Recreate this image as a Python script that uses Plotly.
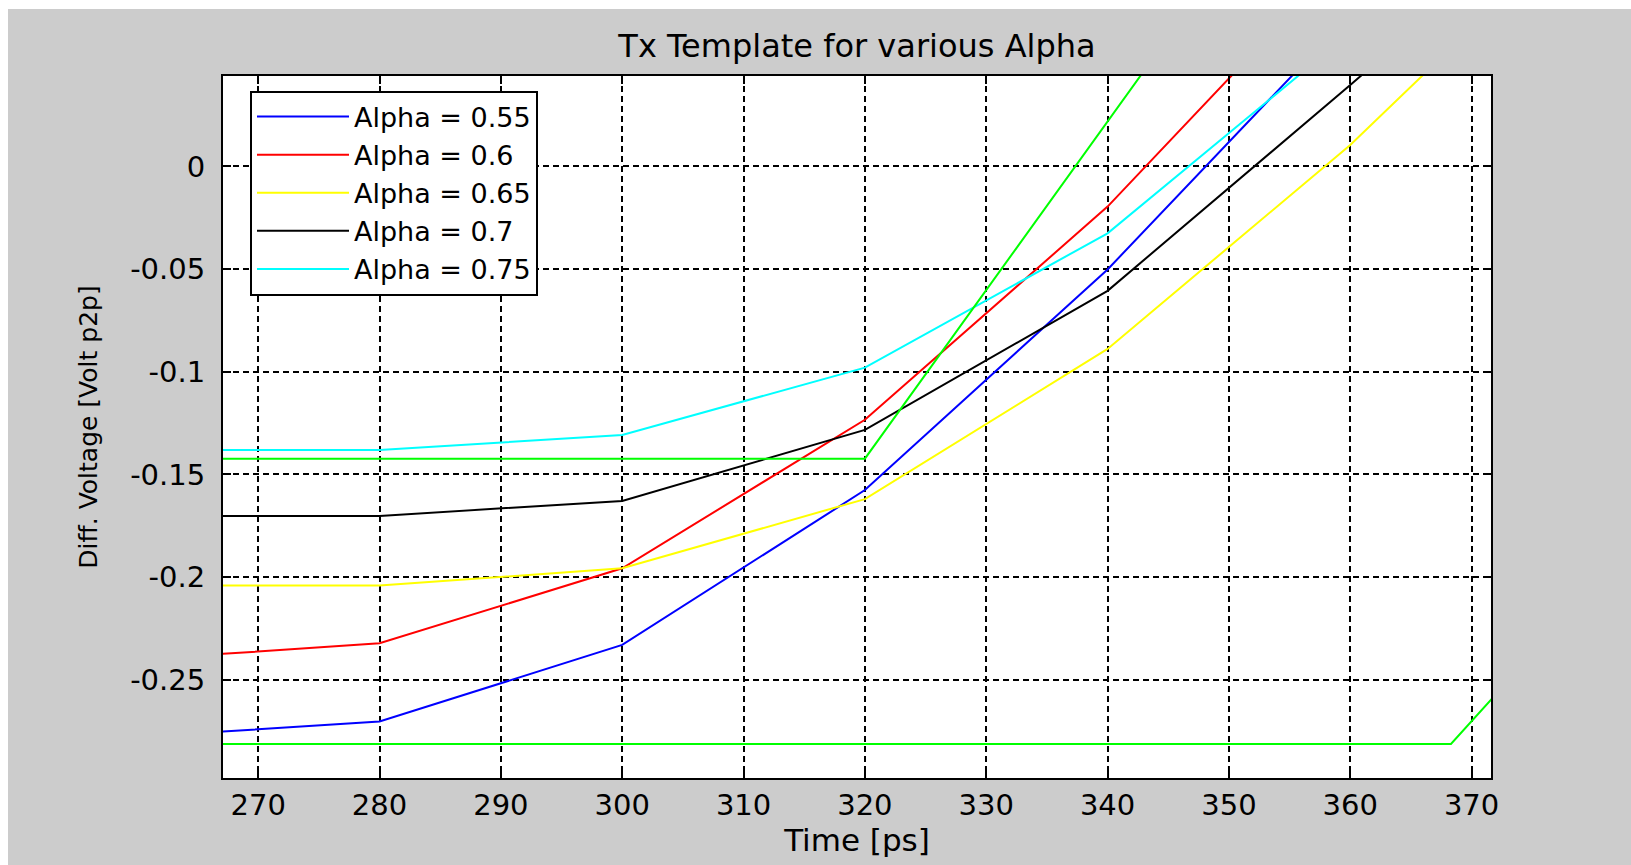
import plotly.graph_objects as go

# ---- data ----
time_ps = [260, 280, 300, 320, 340, 360, 380]

alpha_names = ["Alpha = 0.55", "Alpha = 0.6", "Alpha = 0.65", "Alpha = 0.7", "Alpha = 0.75"]
v_alpha_055 = [-0.2779, -0.2703, -0.2330, -0.1576, -0.0502, 0.0740, 0.198]
v_alpha_060 = [-0.2402, -0.2322, -0.1957, -0.1234, -0.0196, 0.1050, 0.230]
v_alpha_065 = [-0.2041, -0.2041, -0.1957, -0.1620, -0.0889, 0.0104, 0.124]
v_alpha_070 = [-0.1702, -0.1702, -0.1629, -0.1283, -0.0606, 0.0396, 0.142]
v_alpha_075 = [-0.1381, -0.1381, -0.1308, -0.0980, -0.0326, 0.0650, 0.160]

mask_upper_t = [260, 320, 360]
mask_upper_v = [-0.1423, -0.1423, 0.186]
mask_lower_t = [260, 368.3, 380]
mask_lower_v = [-0.2812, -0.2812, -0.205]

x_ticks = [270, 280, 290, 300, 310, 320, 330, 340, 350, 360, 370]
y_ticks = [-0.25, -0.2, -0.15, -0.1, -0.05, 0]
y_tick_text = ["-0.25", "-0.2", "-0.15", "-0.1", "-0.05", "0"]

series = [v_alpha_055, v_alpha_060, v_alpha_065, v_alpha_070, v_alpha_075]
colors = ["#0000ff", "#ff0000", "#ffff00", "#000000", "#00ffff"]

fig = go.Figure()
for name, vals, col in zip(alpha_names, series, colors):
    fig.add_trace(go.Scatter(x=time_ps, y=vals, mode="lines", name=name,
                             line=dict(color=col, width=2)))
fig.add_trace(go.Scatter(x=mask_upper_t, y=mask_upper_v, mode="lines", showlegend=False,
                         line=dict(color="#00ff00", width=2)))
fig.add_trace(go.Scatter(x=mask_lower_t, y=mask_lower_v, mode="lines", showlegend=False,
                         line=dict(color="#00ff00", width=2)))

W, H = 1631, 865
L, R, T, B = 223, 140, 76, 87
pw, ph = W - L - R, H - T - B

axis_common = dict(
    ticks="inside", ticklen=8, tickwidth=1.5, tickcolor="black",
    showline=True, linewidth=2, linecolor="black", mirror="ticks",
    showgrid=True, gridcolor="black", griddash="6px,4px", gridwidth=1.5,
    zeroline=False, tickfont=dict(size=29, color="black"),
)

fig.update_layout(
    width=W, height=H,
    margin=dict(l=L, r=R, t=T, b=B),
    paper_bgcolor="#cccccc", plot_bgcolor="white",
    font=dict(family="DejaVu Sans", size=29, color="black"),
    title=dict(text="Tx Template for various Alpha", x=0.5, xref="paper", xanchor="center",
               y=1 - 46 / H, yref="container", yanchor="middle",
               font=dict(size=32, color="black")),
    xaxis=dict(range=[267.1, 371.6], tickvals=x_ticks, ticklabelstandoff=0,
               title=dict(text="Time [ps]", font=dict(size=31), standoff=0), **axis_common),
    yaxis=dict(range=[-0.2978, 0.044], tickvals=y_ticks, ticktext=y_tick_text,
               ticklabelstandoff=10,
               title=dict(text="Diff. Voltage [Volt p2p]", font=dict(size=25), standoff=25),
               **axis_common),
    legend=dict(x=(250 - L) / pw, y=1 - (90.5 - T) / ph, xanchor="left", yanchor="top",
                bgcolor="white", bordercolor="black", borderwidth=2,
                font=dict(size=27, color="black"), itemwidth=92,
                tracegroupgap=0),
    shapes=[
        dict(type="rect", xref="paper", yref="paper", x0=-0.3, x1=(8 - L) / pw,
             y0=-0.5, y1=1.5, fillcolor="white", line=dict(width=0), layer="above"),
        dict(type="rect", xref="paper", yref="paper", x0=-0.3, x1=1.5,
             y0=1 + (T - 9) / ph, y1=1.5, fillcolor="white", line=dict(width=0), layer="above"),
    ],
)

fig.write_html("out.html", config={"displayModeBar": False})
